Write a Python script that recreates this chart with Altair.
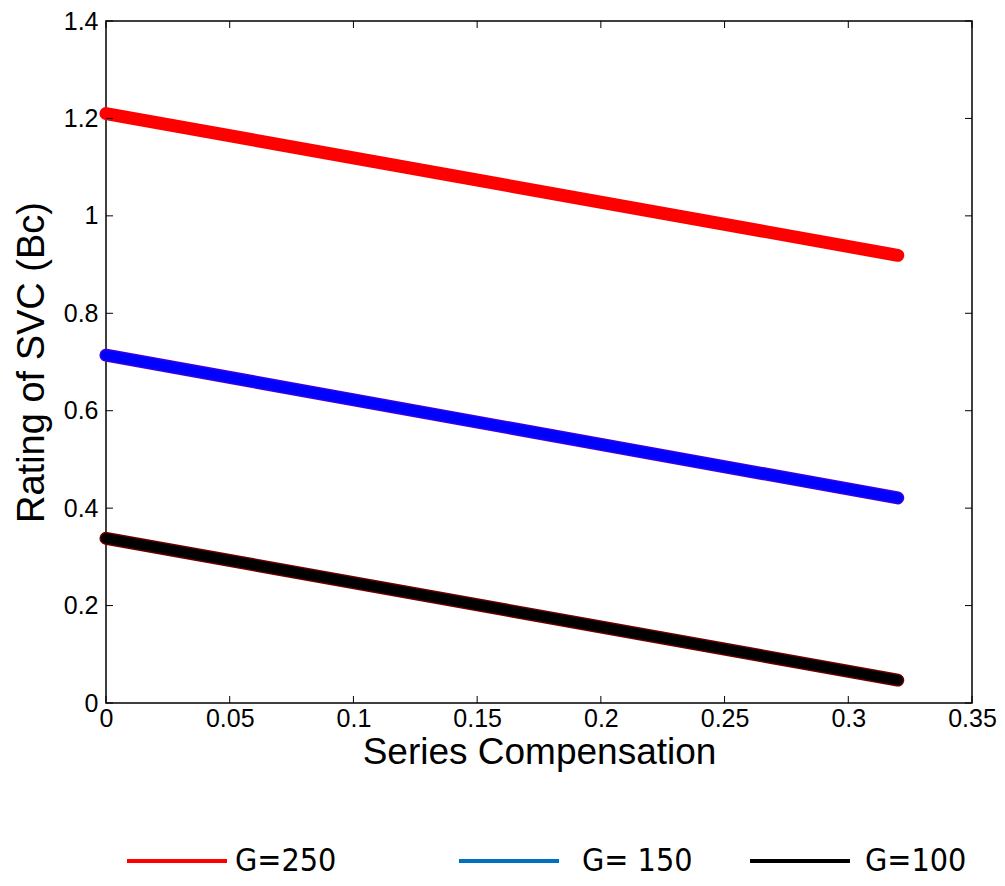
import altair as alt
import pandas as pd

# ---- data ----
series_names = ["G=250", "G= 150", "G=100"]
x_start = [0.0, 0.0, 0.0]
x_end = [0.32, 0.32, 0.32]
y_start = [1.21, 0.714, 0.338]
y_end = [0.919, 0.421, 0.047]
line_fill = ["#ff0000", "#0000ff", "#000000"]
line_edge = ["#ff0000", "#3a00e0", "#6a0000"]
legend_colors = ["#ff0000", "#0070c0", "#000000"]

x_ticks = [0, 0.05, 0.1, 0.15, 0.2, 0.25, 0.3, 0.35]
y_ticks = [0, 0.2, 0.4, 0.6, 0.8, 1.0, 1.2, 1.4]

W, H = 866, 682

rows = []
for i, s in enumerate(series_names):
    rows.append({"series": s, "x": x_start[i], "y": y_start[i], "order": 0,
                 "fill": line_fill[i], "edge": line_edge[i]})
    rows.append({"series": s, "x": x_end[i], "y": y_end[i], "order": 1,
                 "fill": line_fill[i], "edge": line_edge[i]})
df = pd.DataFrame(rows)

xscale = alt.Scale(domain=[0, 0.35], nice=False, zero=False)
yscale = alt.Scale(domain=[0, 1.4], nice=False, zero=False)

FONT = "Liberation Sans"

xaxis = alt.Axis(values=x_ticks, format=".2~f", tickSize=0, domain=False, grid=False,
                 labelFont=FONT, labelFontSize=25, labelColor="#000", labelPadding=3,
                 labelFlush=False, labelOverlap=False,
                 title="Series Compensation", titleFont=FONT, titleFontSize=37,
                 titleFontWeight="normal", titleColor="#000", titlePadding=3)
yaxis = alt.Axis(values=y_ticks, format=".1~f", tickSize=0, domain=False, grid=False,
                 labelFont=FONT, labelFontSize=25, labelColor="#000", labelPadding=8,
                 labelFlush=False, labelOverlap=False,
                 title="Rating of SVC (Bc)", titleFont=FONT, titleFontSize=38,
                 titleFontWeight="normal", titleColor="#000", titlePadding=12)

X = alt.X("x:Q", scale=xscale, axis=xaxis)
Y = alt.Y("y:Q", scale=yscale, axis=yaxis)

edge = alt.Chart(df).mark_line(strokeWidth=13, strokeCap="round").encode(
    x=X, y=Y, detail="series:N", order="order:Q",
    color=alt.Color("edge:N", scale=None),
)
fill = alt.Chart(df).mark_line(strokeWidth=10, strokeCap="round").encode(
    x=X, y=Y, detail="series:N", order="order:Q",
    color=alt.Color("fill:N", scale=None),
)

xt = pd.DataFrame({"x": x_ticks})
yt = pd.DataFrame({"y": y_ticks})
tick_style = dict(color="#000", strokeWidth=1)
xb = alt.Chart(xt).mark_rule(**tick_style).encode(x=X, y=alt.value(H), y2=alt.value(H - 7))
xtop = alt.Chart(xt).mark_rule(**tick_style).encode(x=X, y=alt.value(0), y2=alt.value(7))
yl = alt.Chart(yt).mark_rule(**tick_style).encode(y=Y, x=alt.value(0), x2=alt.value(7))
yr = alt.Chart(yt).mark_rule(**tick_style).encode(y=Y, x=alt.value(W), x2=alt.value(W - 7))

# ---- manual legend below the chart ----
leg_df = pd.DataFrame({"label": series_names, "color": legend_colors})
line_x = [21, 353, 644]
text_x = [129, 476, 759]
leg_y = 840
legend_layers = []
for i in range(3):
    sub = leg_df.iloc[[i]]
    legend_layers.append(
        alt.Chart(sub).mark_rule(strokeWidth=4, color=legend_colors[i]).encode(
            x=alt.value(line_x[i]), x2=alt.value(line_x[i] + 100), y=alt.value(leg_y)))
    legend_layers.append(
        alt.Chart(sub).mark_text(align="left", baseline="middle",
                                 font="'DejaVu Sans Condensed', 'Liberation Sans', sans-serif",
                                 fontSize=32, color="#000").encode(
            x=alt.value(text_x[i]), y=alt.value(leg_y), text="label:N"))

chart = alt.layer(edge, fill, xb, xtop, yl, yr, *legend_layers).properties(
    width=W, height=H,
    autosize=alt.AutoSizeParams(type="none"),
    padding={"left": 98, "top": 13, "right": 25, "bottom": 175},
    background="white",
).configure_view(stroke="#000", strokeWidth=1.5)

chart.save("out.html", embed_options={"renderer": "svg", "actions": False})
